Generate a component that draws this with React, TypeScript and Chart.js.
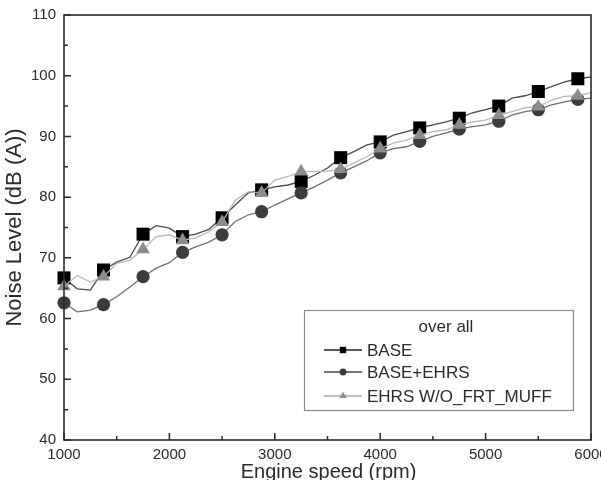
import React, { useEffect, useRef } from 'react';
import { Chart, registerables } from 'chart.js';

Chart.register(...registerables);

// Engine speed sample points (rpm)
const rpm = [
  1000, 1125, 1250, 1375, 1500, 1625, 1750, 1875, 2000, 2125, 2250,
  2375, 2500, 2625, 2750, 2875, 3000, 3125, 3250, 3375, 3500, 3625,
  3750, 3875, 4000, 4125, 4250, 4375, 4500, 4625, 4750, 4875, 5000,
  5125, 5250, 5375, 5500, 5625, 5750, 5875, 6000,
];

// Noise level, dB(A)
const base = [
  66.7, 64.9, 64.7, 68.0, 69.3, 70.1, 73.9, 75.3, 74.9, 73.5, 73.9,
  74.7, 76.6, 78.7, 80.7, 81.2, 81.7, 82.0, 82.6, 83.6, 84.8, 86.5,
  87.5, 88.6, 89.1, 90.2, 90.8, 91.4, 91.9, 92.4, 93.0, 93.9, 94.4,
  95.0, 96.3, 96.7, 97.4, 98.2, 99.0, 99.5, 99.8,
];
const baseEhrs = [
  62.6, 61.1, 61.4, 62.3, 63.6, 65.2, 66.9, 68.3, 69.2, 70.9, 71.8,
  72.6, 73.8, 76.0, 77.1, 77.6, 78.7, 79.7, 80.7, 81.7, 82.8, 84.0,
  85.0, 86.0, 87.3, 88.0, 88.3, 89.2, 90.0, 90.6, 91.2, 91.6, 91.9,
  92.5, 93.5, 94.1, 94.4, 95.2, 95.7, 96.1, 96.3,
];
const ehrsNoFrtMuff = [
  65.3, 67.1, 66.0, 66.9, 69.1, 69.6, 71.4, 73.5, 73.8, 72.9, 73.3,
  74.3, 75.9, 79.5, 80.9, 80.7, 82.8, 83.4, 84.2, 84.2, 84.3, 84.6,
  85.6, 86.7, 88.0, 88.9, 89.4, 90.2, 90.8, 91.1, 91.9, 92.4, 92.7,
  93.5, 94.1, 94.7, 94.9, 96.0, 96.6, 96.7, 97.2,
];

const seriesLabels = ['BASE', 'BASE+EHRS', 'EHRS W/O_FRT_MUFF'];
const markerEvery = 3; // a marker every 375 rpm
const xTicks = [1000, 2000, 3000, 4000, 5000, 6000];
const yTicks = [40, 50, 60, 70, 80, 90, 100, 110];
const legendTitle = 'over all';
const xTitle = 'Engine speed (rpm)';
const yTitle = 'Noise Level (dB (A))';

const FONT = "'Liberation Sans', Arial, sans-serif";
const TEXT = '#2b2b2b';

const styles = [
  { line: '#4a4a4a', marker: '#000000', legendLine: '#222222', shape: 'rect', r: 9.2, lr: 4.5 },
  { line: '#707070', marker: '#3c3c3c', legendLine: '#444444', shape: 'circle', r: 6.6, lr: 3.4 },
  { line: '#b8b8b8', marker: '#8c8c8c', legendLine: '#aaaaaa', shape: 'triangle', r: 7.8, lr: 4.2 },
];

function drawShape(ctx: CanvasRenderingContext2D, shape: string, x: number, y: number, r: number) {
  ctx.beginPath();
  if (shape === 'rect') {
    const s = Math.SQRT1_2 * r;
    ctx.rect(x - s, y - s, 2 * s, 2 * s);
  } else if (shape === 'circle') {
    ctx.arc(x, y, r, 0, Math.PI * 2);
  } else {
    const h = r * 1.5;
    const w = r * Math.sqrt(3);
    ctx.moveTo(x, y - r);
    ctx.lineTo(x + w / 2, y - r + h);
    ctx.lineTo(x - w / 2, y - r + h);
    ctx.closePath();
  }
  ctx.fill();
}

const framePlugin = {
  id: 'frame',
  afterDatasetsDraw(chart: any) {
    const { ctx, chartArea: a, scales } = chart;
    const xs = scales.x;
    const ys = scales.y;
    ctx.save();
    ctx.strokeStyle = '#2a2a2a';
    ctx.lineWidth = 1.6;
    ctx.strokeRect(a.left, a.top, a.right - a.left, a.bottom - a.top);
    ctx.lineWidth = 1.5;
    ctx.beginPath();
    xTicks.forEach((v, i) => {
      const px = xs.getPixelForValue(v);
      ctx.moveTo(px, a.bottom);
      ctx.lineTo(px, a.bottom - 7);
      if (i < xTicks.length - 1) {
        const m = xs.getPixelForValue((v + xTicks[i + 1]) / 2);
        ctx.moveTo(m, a.bottom);
        ctx.lineTo(m, a.bottom - 4);
      }
    });
    yTicks.forEach((v, i) => {
      const py = ys.getPixelForValue(v);
      ctx.moveTo(a.left, py);
      ctx.lineTo(a.left + 7, py);
      if (i < yTicks.length - 1) {
        const m = ys.getPixelForValue((v + yTicks[i + 1]) / 2);
        ctx.moveTo(a.left, m);
        ctx.lineTo(a.left + 4, m);
      }
    });
    ctx.stroke();
    ctx.restore();
  },
  afterDraw(chart: any) {
    const { ctx, chartArea: a } = chart;
    ctx.save();
    // axis titles
    ctx.fillStyle = TEXT;
    ctx.font = `20px ${FONT}`;
    ctx.textAlign = 'center';
    ctx.textBaseline = 'middle';
    ctx.fillText(xTitle, (a.left + a.right) / 2 + 1, 472);
    ctx.save();
    ctx.translate(15, (a.top + a.bottom) / 2);
    ctx.rotate(-Math.PI / 2);
    ctx.font = `22px ${FONT}`;
    ctx.fillText(yTitle, 0, 0);
    ctx.restore();

    // legend
    const lx = 304, ly = 310, lw = 269, lh = 100;
    ctx.fillStyle = '#ffffff';
    ctx.fillRect(lx, ly, lw, lh);
    ctx.strokeStyle = '#8a8a8a';
    ctx.lineWidth = 1.2;
    ctx.strokeRect(lx + 0.5, ly + 0.5, lw, lh);
    ctx.fillStyle = TEXT;
    ctx.font = `17px ${FONT}`;
    ctx.textAlign = 'center';
    ctx.fillText(legendTitle, lx + 142, ly + 17);
    const rows = [350, 372, 396];
    chart.data.datasets.forEach((ds: any, i: number) => {
      const st = styles[i];
      const y = rows[i];
      ctx.strokeStyle = st.legendLine;
      ctx.lineWidth = 1.3;
      ctx.beginPath();
      ctx.moveTo(lx + 20, y);
      ctx.lineTo(lx + 58, y);
      ctx.stroke();
      ctx.fillStyle = st.marker;
      drawShape(ctx, st.shape, lx + 39, y, st.lr);
      ctx.fillStyle = TEXT;
      ctx.textAlign = 'left';
      ctx.font = `17px ${FONT}`;
      ctx.fillText(ds.label, lx + 63, y + 1);
    });
    ctx.restore();
  },
};

export default function App() {
  const canvasRef = useRef<HTMLCanvasElement | null>(null);

  useEffect(() => {
    const canvas = canvasRef.current;
    if (!canvas) return;
    const series = [base, baseEhrs, ehrsNoFrtMuff];
    const chart = new Chart(canvas, {
      type: 'line',
      data: {
        datasets: series.map((vals, i) => ({
          label: seriesLabels[i],
          data: vals.map((v, j) => ({ x: rpm[j], y: v })),
          borderColor: styles[i].line,
          borderWidth: 1.3,
          backgroundColor: styles[i].marker,
          pointBackgroundColor: styles[i].marker,
          pointBorderColor: styles[i].marker,
          pointBorderWidth: 0,
          pointStyle: styles[i].shape as any,
          pointRadius: (c: any) => (c.dataIndex % markerEvery === 0 && c.dataIndex < rpm.length - 1 ? styles[i].r : 0),
          pointHoverRadius: 0,
          tension: 0,
          fill: false,
          clip: false as any,
          order: 3 - i,
        })),
      },
      options: {
        animation: false,
        responsive: false,
        events: [],
        layout: { padding: { left: 0, top: 15, right: 10, bottom: 0 } },
        plugins: {
          legend: { display: false },
          tooltip: { enabled: false },
          title: { display: false },
        },
        scales: {
          x: {
            type: 'linear',
            min: 1000,
            max: 6000,
            grid: { display: false, drawTicks: false },
            border: { display: false },
            afterBuildTicks: (s: any) => {
              s.ticks = xTicks.map((v) => ({ value: v }));
            },
            afterFit: (s: any) => {
              s.height = 40;
              s.paddingLeft = 0;
              s.paddingRight = 0;
            },
            ticks: {
              autoSkip: false,
              maxRotation: 0,
              padding: 6,
              color: TEXT,
              font: { size: 15, family: FONT },
              callback: (v: any) => String(v),
            },
          },
          y: {
            type: 'linear',
            min: 40,
            max: 110,
            grid: { display: false, drawTicks: false },
            border: { display: false },
            afterBuildTicks: (s: any) => {
              s.ticks = yTicks.map((v) => ({ value: v }));
            },
            afterFit: (s: any) => {
              s.width = 64;
              s.paddingTop = 0;
              s.paddingBottom = 0;
            },
            ticks: {
              padding: 8,
              color: TEXT,
              font: { size: 15, family: FONT },
              callback: (v: any) => String(v),
            },
          },
        },
      },
      plugins: [framePlugin],
    });
    return () => chart.destroy();
  }, []);

  return (
    <div style={{ position: 'fixed', left: 0, top: 0, width: 601, height: 480, background: '#fff' }}>
      <canvas ref={canvasRef} width={601} height={480} style={{ display: 'block', width: 601, height: 480 }} />
    </div>
  );
}
